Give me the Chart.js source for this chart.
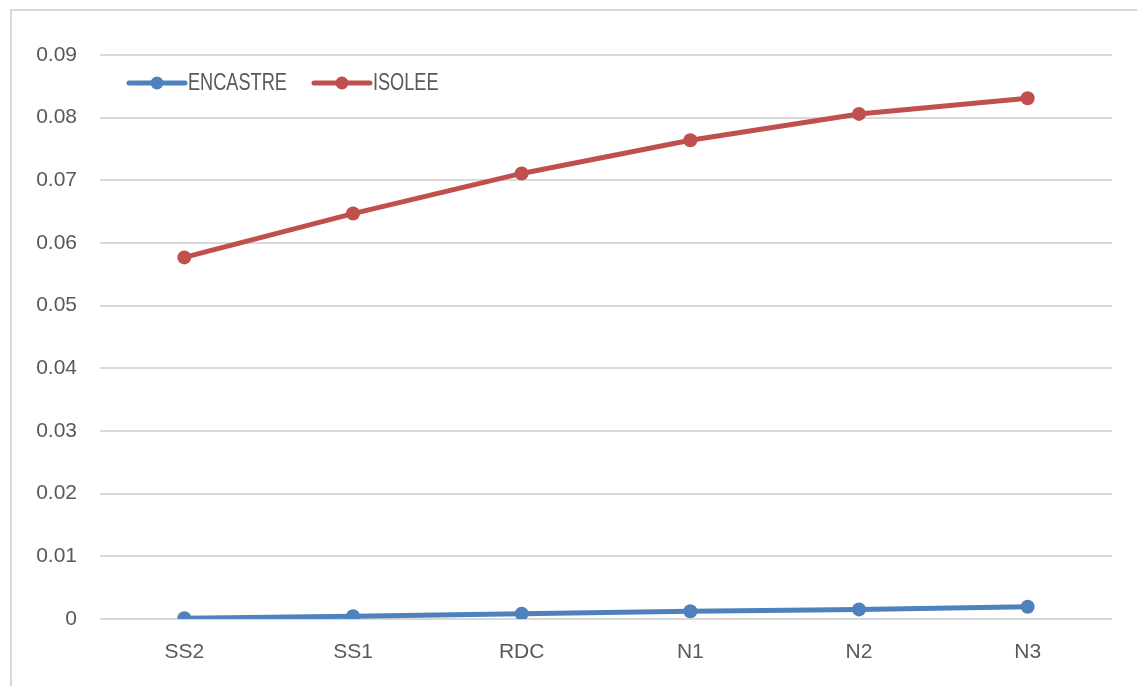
<!DOCTYPE html>
<html>
<head>
<meta charset="utf-8">
<script src="https://cdn.jsdelivr.net/npm/chart.js@4/dist/chart.umd.min.js"></script>
<style>
  html, body { margin: 0; padding: 0; background: #fff; overflow: hidden; }
  #wrap { position: relative; width: 1137px; height: 686px; }
  #frame { position: absolute; left: 10px; top: 9px; width: 1200px; height: 800px;
           border: 2px solid #d9d9d9; box-sizing: border-box; }
  canvas { position: absolute; left: 0; top: 0; }
</style>
</head>
<body>
<div id="wrap">
  <div id="frame"></div>
  <canvas id="c" width="1137" height="686"></canvas>
</div>
<script>
// Storey labels along the horizontal axis
const levels = ['SS2', 'SS1', 'RDC', 'N1', 'N2', 'N3'];
// Values per storey for each support condition
const encastre = [0.00013, 0.00045, 0.00083, 0.00124, 0.00153, 0.00195];
const isolee = [0.0577, 0.0647, 0.0711, 0.0764, 0.0806, 0.0831];
const seriesNames = ['ENCASTRE', 'ISOLEE'];
const seriesColors = ['#4f81bd', '#c0504d'];

const FONT = '"Liberation Sans Narrow", "Arial Narrow", "Liberation Sans", Arial, sans-serif';
const TEXT = '#595959';

// Legend drawn inside the plot area, top-left, with a line + dot sample;
// the label text is set in a condensed width.
const insideLegend = {
  id: 'insideLegend',
  afterDraw(chart, args, opts) {
    const ctx = chart.ctx;
    ctx.save();
    ctx.font = opts.fontSize + 'px ' + FONT;
    ctx.textBaseline = 'middle';
    let x = opts.x;
    chart.data.datasets.forEach(ds => {
      const y = opts.y;
      ctx.strokeStyle = ds.borderColor;
      ctx.lineWidth = 5;
      ctx.lineCap = 'round';
      ctx.beginPath();
      ctx.moveTo(x, y);
      ctx.lineTo(x + opts.sample, y);
      ctx.stroke();
      ctx.fillStyle = ds.borderColor;
      ctx.beginPath();
      ctx.arc(x + opts.sample / 2, y, 6.5, 0, Math.PI * 2);
      ctx.fill();
      ctx.fillStyle = TEXT;
      const tx = x + opts.sample + 3;
      ctx.save();
      ctx.translate(tx, y + 1);
      ctx.scale(opts.squeeze, 1);
      ctx.fillText(ds.label, 0, 0);
      ctx.restore();
      x = tx + ctx.measureText(ds.label).width * opts.squeeze + opts.gap;
    });
    ctx.restore();
  }
};

new Chart(document.getElementById('c'), {
  type: 'line',
  data: {
    labels: levels,
    datasets: [
      { label: seriesNames[0], data: encastre },
      { label: seriesNames[1], data: isolee }
    ].map((d, i) => Object.assign(d, {
      borderColor: seriesColors[i],
      backgroundColor: seriesColors[i],
      borderWidth: 5,
      pointRadius: 7,
      pointHoverRadius: 7,
      pointBorderWidth: 0,
      tension: 0,
      fill: false
    }))
  },
  options: {
    responsive: false,
    animation: false,
    events: [],
    layout: { padding: { left: 0, top: 55, right: 25, bottom: 0 } },
    plugins: {
      legend: { display: false },
      tooltip: { enabled: false },
      insideLegend: { x: 129, y: 83, sample: 56, gap: 27, fontSize: 23, squeeze: 0.79 }
    },
    scales: {
      x: {
        offset: true,
        grid: { display: false, drawTicks: false },
        border: { display: false },
        ticks: { color: TEXT, font: { family: FONT, size: 21 }, padding: 21, maxRotation: 0 },
        afterFit(s) { s.height = 67; }
      },
      y: {
        min: 0,
        max: 0.09,
        grid: { color: '#d9d9d9', lineWidth: 2, drawTicks: false },
        border: { display: false },
        ticks: {
          stepSize: 0.01,
          color: TEXT,
          font: { family: FONT, size: 21 },
          padding: 23,
          callback: v => String(Math.round(v * 100) / 100)
        },
        afterFit(s) { s.width = 100; }
      }
    }
  },
  plugins: [insideLegend]
});
</script>
</body>
</html>
